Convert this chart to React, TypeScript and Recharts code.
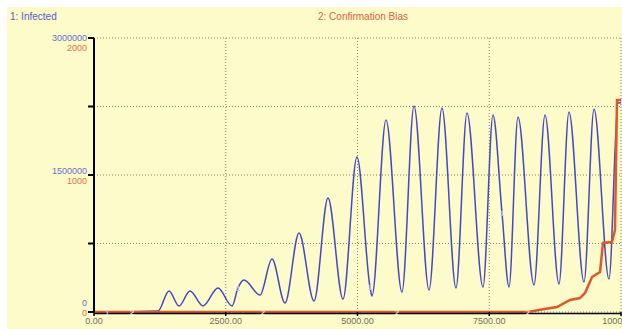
import { ComposedChart, Line, Scatter, XAxis, YAxis, CartesianGrid } from "recharts";

// Infected (left scale, 0..3,000,000)
const infectedTime = [
  0, 250, 1214, 1423, 1613, 1822, 2068, 2353, 2619, 2732, 2846, 3150, 3378, 3624, 3890, 4175, 4440, 4725,
  4990, 5237, 5275, 5541, 5844, 6072, 6357, 6603, 6869, 7078, 7381, 7571, 7742, 7875, 8045, 8349, 8558,
  8823, 9013, 9298, 9488, 9772, 9943, 10000,
];
const infectedValues = [
  0, 0, 11000, 230000, 66000, 230000, 66000, 263000, 66000, 263000, 350000, 186000, 580000, 99000, 865000,
  120000, 1248000, 142000, 1697000, 274000, 175000, 2102000, 219000, 2255000, 241000, 2234000, 263000,
  2179000, 274000, 2157000, 1084000, 274000, 2135000, 296000, 2157000, 307000, 2190000, 328000, 2223000,
  361000, 2288000, 2290000,
];
const infectedMarkerTimes = [250, 2732, 5237, 7742];

// Confirmation Bias (right scale, 0..2000)
const biasTime = [0, 721, 3207, 5749, 8235, 8520, 8785, 9032, 9222, 9317, 9450, 9602, 9658, 9829, 9886, 9924, 10000];
const biasValues = [0, 0, 0, 0, 0, 20, 36, 88, 102, 139, 255, 292, 504, 511, 599, 1547, 1547];
const biasMarkerTimes = [721, 3207, 5749, 8235];

const timeTicks = [0, 2500, 5000, 7500, 10000];
const infectedTicks = [0, 750000, 1500000, 2250000, 3000000];
const infectedTickLabels = ["0", "", "1500000", "", "3000000"];
const biasTickLabels = ["0", "", "1000", "", "2000"];

const BLUE = "#4646c8";
const ORANGE = "#e2562c";
const BG = "#fdfbc9";

const infectedData = infectedTime.map((t, i) => ({ t, v: infectedValues[i] }));
const biasData = biasTime.map((t, i) => ({ t, b: biasValues[i] }));
const infectedMarkers = infectedData.filter((d) => infectedMarkerTimes.includes(d.t));
const biasMarkers = biasData.filter((d) => biasMarkerTimes.includes(d.t));

function LeftTick(props: any) {
  const { x, y, index } = props;
  const last = infectedTicks.length - 1;
  // the paired labels sit above/below the tick, pushed inward at the ends
  let up = -4;
  let down = 6;
  if (index === 0) {
    up = -9;
    down = 1;
  } else if (index === last) {
    up = 0;
    down = 10;
  }
  return (
    <g>
      <text x={x} y={y + up} dy={3} textAnchor="end" fontSize={9} fill="#6a6ad6">
        {infectedTickLabels[index]}
      </text>
      <text x={x} y={y + down} dy={3} textAnchor="end" fontSize={9} fill="#e4704c">
        {biasTickLabels[index]}
      </text>
    </g>
  );
}

function markerShape(label: string, fill: string) {
  return (props: any) => {
    const { cx, cy } = props;
    if (cx == null || cy == null) return <g />;
    return (
      <text x={cx} y={cy} dy={3} textAnchor="middle" fontSize={8} fontWeight="bold" fill={fill}>
        {label}
      </text>
    );
  };
}

export default function App() {
  return (
    <div
      style={{
        position: "absolute",
        left: 0,
        top: 0,
        width: 622,
        height: 329,
        background: "#fff",
        overflow: "hidden",
        fontFamily: '"Liberation Sans", Arial, sans-serif',
      }}
    >
      <div style={{ position: "absolute", left: 7, top: 7, right: 0, bottom: 0, background: BG }} />
      <div style={{ position: "absolute", left: 10, top: 11, fontSize: 10, color: "#5a5ac8", lineHeight: "12px" }}>
        1: Infected
      </div>
      <div style={{ position: "absolute", left: 318, top: 11, fontSize: 10, color: "#e0603c", lineHeight: "12px" }}>
        2: Confirmation Bias
      </div>
      <ComposedChart
        width={622}
        height={329}
        margin={{ top: 38, right: 1, bottom: 0, left: 0 }}
        style={{ position: "absolute", left: 0, top: 0 }}
      >
        <CartesianGrid stroke="#85856a" strokeDasharray="1 2" />
        <XAxis
          dataKey="t"
          type="number"
          domain={[0, 10000]}
          ticks={timeTicks}
          interval={0}
          height={17}
          tickSize={4}
          tickMargin={2}
          tickFormatter={(v: number) => v.toFixed(2)}
          tick={{ fontSize: 9, fill: "#707060" }}
          axisLine={{ stroke: "#000", strokeWidth: 1.5, transform: "translate(0,1.5)" }}
          tickLine={{ stroke: "#000", strokeWidth: 1.5 }}
        />
        <YAxis
          type="number"
          domain={[0, 3000000]}
          ticks={infectedTicks}
          interval={0}
          width={94}
          tickSize={6}
          tickMargin={1}
          tick={<LeftTick />}
          axisLine={{ stroke: "#000", strokeWidth: 2 }}
          tickLine={{ stroke: "#000", strokeWidth: 2 }}
        />
        <YAxis yAxisId="bias" type="number" domain={[0, 2000]} hide />
        <Line
          data={infectedData}
          dataKey="v"
          type="monotone"
          stroke={BLUE}
          strokeWidth={1.5}
          dot={false}
          activeDot={false}
          isAnimationActive={false}
        />
        <Line
          data={biasData}
          dataKey="b"
          yAxisId="bias"
          type="linear"
          stroke={ORANGE}
          strokeWidth={2.5}
          dot={false}
          activeDot={false}
          isAnimationActive={false}
        />
        <Scatter
          data={infectedMarkers}
          dataKey="v"
          shape={markerShape("1", "#c4c6ee")}
          isAnimationActive={false}
        />
        <Scatter
          data={biasMarkers}
          dataKey="b"
          yAxisId="bias"
          shape={markerShape("2", "#fbe0d2")}
          isAnimationActive={false}
        />
      </ComposedChart>
    </div>
  );
}
